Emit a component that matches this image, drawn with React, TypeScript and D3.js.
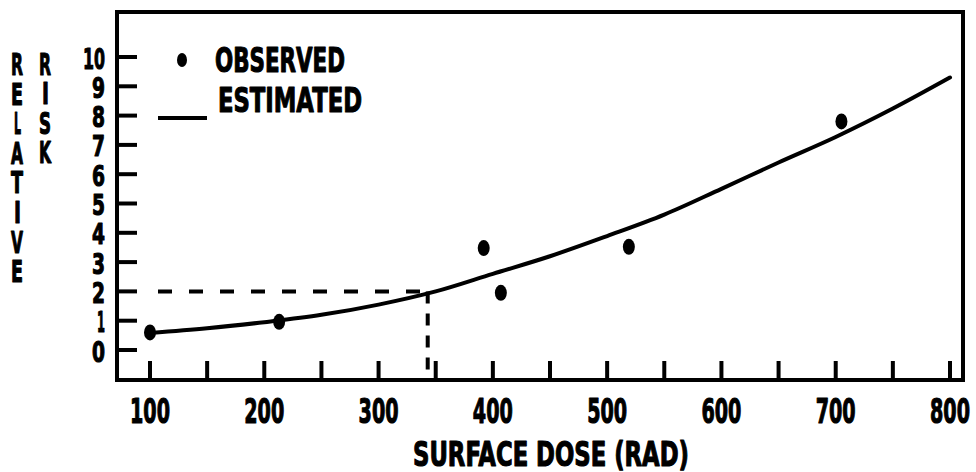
import * as d3 from 'd3';

// observed relative risk by surface dose (rad)
const observedDose = [100, 213, 392, 407, 519, 705];
const observedRisk = [0.6, 0.96, 3.48, 1.95, 3.52, 7.8];

// estimated (fitted) curve
const estimatedDose = [100, 150, 200, 250, 300, 350, 400, 450, 500, 550, 600, 650, 700, 750, 800];
const estimatedRisk = [0.58, 0.74, 0.95, 1.2, 1.55, 2.0, 2.6, 3.2, 3.89, 4.62, 5.5, 6.4, 7.27, 8.24, 9.3];

const xTicks = d3.range(100, 801, 50);
const xTickLabels = [100, 200, 300, 400, 500, 600, 700, 800];
const yTicks = d3.range(0, 11, 1);

// dashed guide: risk 2 read back to dose
const guideRisk = 2;
const guideDose = 343;
const guideStartDose = 107;

const yTitle1 = 'RELATIVE';
const yTitle2 = 'RISK';

const W = 976;
const H = 472;
const frame = { left: 117, top: 12, right: 963, bottom: 380 };
const FONT = '"DejaVu Sans", sans-serif';
const NARROW = 'IL1';

// condensed, heavy lettering; y is the vertical centre of the caps
const Label = ({ x, y, size, width, anchor = 'start', children }: any) => {
  const x0 = anchor === 'middle' && width ? x - width / 2 : x;
  return (
    <text
      x={x0}
      y={y + size * 0.365}
      fontFamily={FONT}
      fontWeight="bold"
      fontSize={size}
      textLength={width || undefined}
      lengthAdjust={width ? 'spacingAndGlyphs' : undefined}
      textAnchor={width ? 'start' : anchor}
      fill="#000"
      stroke="#000"
      strokeWidth={1.2}
      strokeLinejoin="round"
    >
      {children}
    </text>
  );
};

export default function App() {
  const x = d3.scaleLinear().domain([100, 800]).range([150, 950]);
  const y = d3.scaleLinear().domain([0, 10]).range([350, 57]);

  const line = d3
    .line<number>()
    .x((d, i) => x(estimatedDose[i]))
    .y((d) => y(d))
    .curve(d3.curveMonotoneX);

  return (
    <svg width={W} height={H} style={{ position: 'absolute', left: 0, top: 0, background: '#fff' }}>
      <rect width={W} height={H} fill="#fff" />

      {/* frame */}
      <rect
        x={frame.left}
        y={frame.top}
        width={frame.right - frame.left}
        height={frame.bottom - frame.top}
        fill="none"
        stroke="#000"
        strokeWidth={4}
      />

      {/* x ticks */}
      {xTicks.map((t) => (
        <line key={t} x1={x(t)} x2={x(t)} y1={frame.bottom} y2={frame.bottom - 19} stroke="#000" strokeWidth={4} />
      ))}
      {xTickLabels.map((t) => (
        <Label key={t} x={x(t)} y={411} size={34} width={40} anchor="middle">
          {t}
        </Label>
      ))}

      {/* y ticks */}
      {yTicks.map((t) => (
        <line key={t} x1={frame.left} x2={frame.left + 20} y1={y(t)} y2={y(t)} stroke="#000" strokeWidth={4} />
      ))}
      {yTicks.map((t) => {
        const w = t === 10 ? 22 : t === 1 ? 8 : 13;
        return (
          <Label key={t} x={105 - w} y={y(t) + 1} size={29} width={w}>
            {t}
          </Label>
        );
      })}

      {/* y title as stacked letters */}
      {yTitle1.split('').map((c, i) => (
        <Label key={'a' + i} x={17 - (NARROW.includes(c) ? 3 : 6)} y={64 + i * 29.6} size={30} width={NARROW.includes(c) ? 7 : 12}>
          {c}
        </Label>
      ))}
      {yTitle2.split('').map((c, i) => (
        <Label key={'b' + i} x={45 - (NARROW.includes(c) ? 3 : 6)} y={64 + i * 29.3} size={30} width={NARROW.includes(c) ? 7 : 12}>
          {c}
        </Label>
      ))}

      {/* x title */}
      <Label x={551} y={454} size={33} width={276} anchor="middle">
        SURFACE DOSE (RAD)
      </Label>

      {/* dashed guide lines */}
      <line
        x1={x(guideStartDose)}
        x2={x(guideDose)}
        y1={y(guideRisk)}
        y2={y(guideRisk)}
        stroke="#000"
        strokeWidth={4}
        strokeDasharray="14 17"
      />
      <line
        x1={x(guideDose)}
        x2={x(guideDose)}
        y1={y(guideRisk)}
        y2={frame.bottom}
        stroke="#000"
        strokeWidth={4}
        strokeDasharray="12 10"
      />

      {/* estimated curve */}
      <path d={line(estimatedRisk) || ''} fill="none" stroke="#000" strokeWidth={4} strokeLinejoin="round" strokeLinecap="round" />

      {/* observed points */}
      {observedDose.map((d, i) => (
        <ellipse key={i} cx={x(d)} cy={y(observedRisk[i])} rx={6} ry={8} fill="#000" />
      ))}

      {/* legend */}
      <ellipse cx={182} cy={60} rx={5} ry={7} fill="#000" />
      <Label x={215} y={60} size={34} width={130}>
        OBSERVED
      </Label>
      <line x1={158} x2={207} y1={118} y2={118} stroke="#000" strokeWidth={4} />
      <Label x={218} y={100} size={34} width={144}>
        ESTIMATED
      </Label>
    </svg>
  );
}
